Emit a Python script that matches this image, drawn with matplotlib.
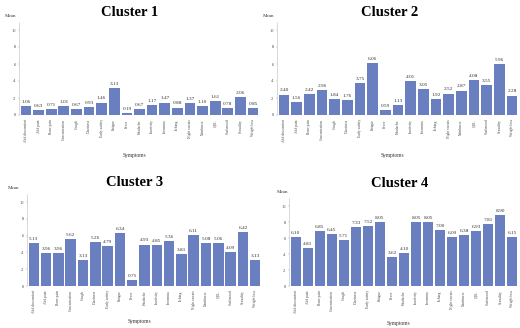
import matplotlib
matplotlib.use("Agg")
import matplotlib.pyplot as plt
import numpy as np

plt.rcParams['font.family'] = ['Liberation Serif', 'DejaVu Serif']

# data
symptoms = ["Abd discomfort", "Abd pain", "Bone pain", "Concentration", "Cough",
            "Dizziness", "Early satiety", "Fatigue", "Fever", "Headache",
            "Inactivity", "Insomnia", "Itching", "Night sweats", "Numbness",
            "QOL", "Sad mood", "Sexuality", "Weight loss"]
cluster1 = [1.06, 0.63, 0.71, 1.01, 0.67, 0.93, 1.46, 3.13, 0.19, 0.67,
            1.17, 1.47, 0.88, 1.37, 1.10, 1.61, 0.78, 2.06, 0.85]
cluster2 = [2.40, 1.56, 2.42, 2.96, 1.84, 1.76, 3.75, 6.06, 0.59, 1.13,
            4.01, 3.05, 1.92, 2.52, 2.87, 4.08, 3.55, 5.96, 2.28]
cluster3 = [5.13, 3.96, 3.96, 5.62, 3.13, 5.26, 4.79, 6.34, 0.75, 4.93,
            4.85, 5.36, 3.81, 6.11, 5.08, 5.06, 4.09, 6.42, 3.13]
cluster4 = [6.10, 4.81, 6.85, 6.45, 5.71, 7.33, 7.52, 8.05, 3.62, 4.10,
            8.05, 8.05, 7.00, 6.09, 6.38, 6.93, 7.81, 8.90, 6.15]
titles = ["Cluster 1", "Cluster 2", "Cluster 3", "Cluster 4"]
yticks = [0, 2, 4, 6, 8, 10]

W, H = 520, 328
fig = plt.figure(figsize=(5.2, 3.28), dpi=100)

# panel boxes in pixels: left, right, y of zero, y of ten, title pos, mean pos, xlabel y
panels = [
    (19, 260, 115, 30, (130, 13), (5, 16), 155),
    (277, 519, 115, 30, (390, 13), (263, 16), 155),
    (27, 262, 286, 202, (135, 182), (8, 188), 322),
    (289, 519, 286, 206, (400, 183), (277, 192), 324),
]

bar_color = "#6a7fc0"
x = np.arange(len(symptoms))

for vals, title, (l, r, y0, y10, tpos, mpos, xly) in zip(
        [cluster1, cluster2, cluster3, cluster4], titles, panels):
    unit = (y0 - y10) / 10
    top = y0 - 11 * unit
    ax = fig.add_axes([l / W, 1 - y0 / H, (r - l) / W, (y0 - top) / H])
    bars = ax.bar(x, vals, width=0.85, color=bar_color)
    for b, v in zip(bars, vals):
        ax.text(b.get_x() + b.get_width() / 2, v + 0.25, "%.2f" % v,
                ha="center", va="bottom", fontsize=3.8, color="#333333")
    ax.set_xlim(-0.55, len(symptoms) - 0.45)
    ax.set_ylim(0, 11)
    ax.set_yticks(yticks)
    ax.set_yticklabels([str(t) for t in yticks], fontsize=3.2, color="#444444")
    ax.set_xticks(x)
    ax.set_xticklabels(symptoms, rotation=90, fontsize=2.6, color="#444444",
                       va="top")
    ax.tick_params(axis="both", length=1, width=0.3, pad=1.5, colors="#999999",
                   labelcolor="#444444")
    ax.tick_params(axis="x", length=0, pad=3)
    for s in ["top", "right", "bottom"]:
        ax.spines[s].set_visible(False)
    ax.spines["left"].set_color("#bbbbbb")
    ax.spines["left"].set_linewidth(0.4)
    ax.spines["left"].set_linestyle((0, (1, 1)))
    fig.text(tpos[0] / W, 1 - tpos[1] / H, title, ha="center", va="center",
             fontsize=10.5, fontweight="bold")
    fig.text(mpos[0] / W, 1 - mpos[1] / H, "Mean", ha="left", va="center",
             fontsize=3.6, color="#333333")
    fig.text((l + r) / 2 / W - 0.01, 1 - xly / H, "Symptoms", ha="center",
             va="center", fontsize=4, color="#333333")

fig.savefig("out.png", dpi=100)
